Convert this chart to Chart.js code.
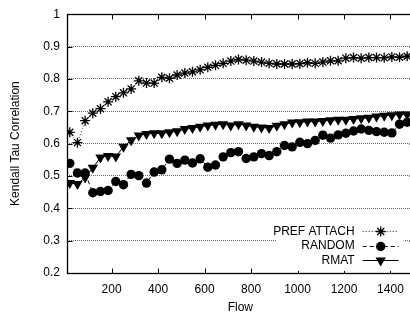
<!DOCTYPE html>
<html>
<head>
<meta charset="utf-8">
<script src="https://cdn.jsdelivr.net/npm/chart.js@4.4.1/dist/chart.umd.min.js"></script>
<style>
html, body { margin: 0; padding: 0; background: #fff; overflow: hidden; }
#wrap { width: 420px; height: 320px; }
</style>
</head>
<body>
<div id="wrap"><canvas id="kendallChart"></canvas></div>
<script>
// Flow values shared by all three series
var flow = [20, 53, 86, 119, 152, 185, 218, 251, 284, 317, 350, 383, 416, 449, 482,
            515, 548, 581, 614, 647, 680, 713, 746, 779, 812, 845, 878, 911, 944, 977,
            1010, 1043, 1076, 1109, 1142, 1175, 1208, 1241, 1274, 1307, 1340, 1373, 1406, 1439, 1472];

var prefAttach = [0.635, 0.603, 0.671, 0.694, 0.708, 0.729, 0.745, 0.757, 0.769, 0.794, 0.787, 0.787, 0.805, 0.802, 0.812,
                  0.818, 0.822, 0.828, 0.836, 0.842, 0.848, 0.855, 0.860, 0.858, 0.855, 0.852, 0.848, 0.846, 0.846, 0.846,
                  0.847, 0.850, 0.848, 0.852, 0.856, 0.856, 0.864, 0.866, 0.864, 0.866, 0.866, 0.865, 0.868, 0.867, 0.870];

var randomGraph = [0.539, 0.509, 0.509, 0.448, 0.452, 0.455, 0.483, 0.473, 0.505, 0.501, 0.478, 0.512, 0.519, 0.552, 0.539,
                   0.549, 0.540, 0.553, 0.527, 0.534, 0.559, 0.572, 0.575, 0.554, 0.559, 0.569, 0.563, 0.575, 0.594, 0.590,
                   0.604, 0.600, 0.610, 0.626, 0.617, 0.627, 0.632, 0.639, 0.645, 0.641, 0.637, 0.635, 0.633, 0.660, 0.666];

var rmat = [0.478, 0.475, 0.495, 0.525, 0.557, 0.562, 0.560, 0.590, 0.610, 0.625, 0.630, 0.632, 0.632, 0.635, 0.638,
            0.645, 0.648, 0.652, 0.656, 0.658, 0.660, 0.656, 0.660, 0.656, 0.652, 0.650, 0.648, 0.655, 0.660, 0.665,
            0.666, 0.668, 0.668, 0.670, 0.672, 0.674, 0.674, 0.676, 0.678, 0.680, 0.684, 0.686, 0.688, 0.690, 0.690];

var xTicks = [200, 400, 600, 800, 1000, 1200, 1400];
var yTicks = [0.2, 0.3, 0.4, 0.5, 0.6, 0.7, 0.8, 0.9, 1];

function toPoints(vals) {
    return flow.map(function(f, i) { return {x: f, y: vals[i]}; });
}

var FONT = "'Liberation Sans', Arial, sans-serif";

// border box, inward tick marks and the gnuplot-style key
var frameAndKey = {
    id: 'frameAndKey',
    afterDatasetsDraw: function(chart) {
        var ctx = chart.ctx, a = chart.chartArea;
        var xs = chart.scales.x, ys = chart.scales.y;
        var L = Math.round(a.left) + 0.5, R = Math.round(a.right) + 0.5;
        var T = Math.round(a.top) + 0.5, B = Math.round(a.bottom) + 0.5;
        ctx.save();
        ctx.strokeStyle = '#000';
        ctx.lineWidth = 1;
        ctx.setLineDash([]);
        ctx.beginPath();
        xTicks.forEach(function(v) {
            var px = Math.round(xs.getPixelForValue(v)) + 0.5;
            ctx.moveTo(px, B); ctx.lineTo(px, B - 5);
            ctx.moveTo(px, T); ctx.lineTo(px, T + 5);
        });
        yTicks.forEach(function(v) {
            var py = Math.round(ys.getPixelForValue(v)) + 0.5;
            ctx.moveTo(L, py); ctx.lineTo(L + 5, py);
            ctx.moveTo(R, py); ctx.lineTo(R - 5, py);
        });
        ctx.stroke();
        ctx.lineWidth = 1.3;
        ctx.strokeRect(L, T, R - L, B - T);

        // key
        var keyRight = a.right - 9;
        ctx.fillStyle = '#fff';
        ctx.fillRect(a.right - 137, a.bottom - 52, 127, 50);
        ctx.font = '12px ' + FONT;
        ctx.textAlign = 'right';
        ctx.textBaseline = 'middle';
        chart.data.datasets.forEach(function(ds, i) {
            var y = a.bottom - 42 + i * 14.6;
            var textX = keyRight - 50;
            ctx.fillStyle = '#000';
            ctx.fillText(ds.label, textX, y + 0.5);
            ctx.strokeStyle = ds.borderColor;
            ctx.lineWidth = ds.borderWidth;
            ctx.setLineDash(ds.borderDash || []);
            ctx.beginPath();
            ctx.moveTo(textX + 8, Math.round(y) + 0.5);
            ctx.lineTo(textX + 44, Math.round(y) + 0.5);
            ctx.stroke();
            ctx.setLineDash([]);
            ctx.strokeStyle = '#000';
            ctx.fillStyle = '#000';
            ctx.lineWidth = ds.pointBorderWidth || 1;
            Chart.helpers.drawPoint(ctx, {
                pointStyle: ds.pointStyle,
                radius: ds.pointRadius,
                rotation: ds.pointRotation || 0,
                borderWidth: ds.pointBorderWidth
            }, textX + 26, Math.round(y) + 0.5);
        });
        ctx.restore();
    }
};

var kendallChart = new Chart(document.getElementById('kendallChart').getContext('2d'), {
    type: 'line',
    data: {
        datasets: [{
            label: 'PREF ATTACH',
            data: toPoints(prefAttach),
            borderColor: '#333',
            borderWidth: 1,
            borderDash: [1, 2],
            pointStyle: 'star',
            pointRadius: 5,
            pointBorderColor: '#000',
            pointBackgroundColor: '#000',
            pointBorderWidth: 1.3
        }, {
            label: 'RANDOM',
            data: toPoints(randomGraph),
            borderColor: '#000',
            borderWidth: 1,
            borderDash: [4, 3],
            pointStyle: 'circle',
            pointRadius: 4.7,
            pointBorderColor: '#000',
            pointBackgroundColor: '#000',
            pointBorderWidth: 0
        }, {
            label: 'RMAT',
            data: toPoints(rmat),
            borderColor: '#000',
            borderWidth: 1,
            borderDash: [],
            pointStyle: 'triangle',
            pointRotation: 180,
            pointRadius: 6,
            pointBorderColor: '#000',
            pointBackgroundColor: '#000',
            pointBorderWidth: 0
        }]
    },
    options: {
        responsive: true,
        maintainAspectRatio: false,
        animation: false,
        layout: { padding: { top: 10, right: 3, left: 0, bottom: 0 } },
        plugins: {
            legend: { display: false },
            tooltip: { enabled: false }
        },
        elements: { line: { tension: 0 } },
        scales: {
            x: {
                type: 'linear',
                min: 8,
                max: 1500,
                afterBuildTicks: function(scale) {
                    scale.ticks = xTicks.map(function(v) { return {value: v}; });
                },
                afterFit: function(scale) { scale.height = 47; },
                grid: { display: false, drawTicks: false },
                border: { display: false },
                ticks: {
                    padding: 9,
                    maxRotation: 0,
                    autoSkip: false,
                    color: '#000',
                    font: { size: 12, family: FONT },
                    callback: function(v) { return String(v); }
                },
                title: {
                    display: true,
                    text: 'Flow',
                    color: '#000',
                    font: { size: 12, family: FONT },
                    padding: { top: 0, bottom: 5 }
                }
            },
            y: {
                min: 0.2,
                max: 1,
                afterBuildTicks: function(scale) {
                    scale.ticks = yTicks.map(function(v) { return {value: v}; });
                },
                afterFit: function(scale) { scale.width = 67; },
                grid: {
                    drawTicks: false,
                    lineWidth: 1,
                    color: function(c) {
                        var v = c.tick ? c.tick.value : 0;
                        return (v > 0.25 && v < 0.95) ? '#666' : 'rgba(0,0,0,0)';
                    }
                },
                border: { display: false, dash: [1, 1] },
                ticks: {
                    padding: 7,
                    color: '#000',
                    font: { size: 12, family: FONT },
                    callback: function(v) { return String(Math.round(v * 10) / 10); }
                },
                title: {
                    display: true,
                    text: 'Kendall Tau Correlation',
                    color: '#000',
                    font: { size: 12, family: FONT },
                    padding: { top: 8, bottom: 0 }
                }
            }
        }
    },
    plugins: [frameAndKey]
});
</script>
</body>
</html>
